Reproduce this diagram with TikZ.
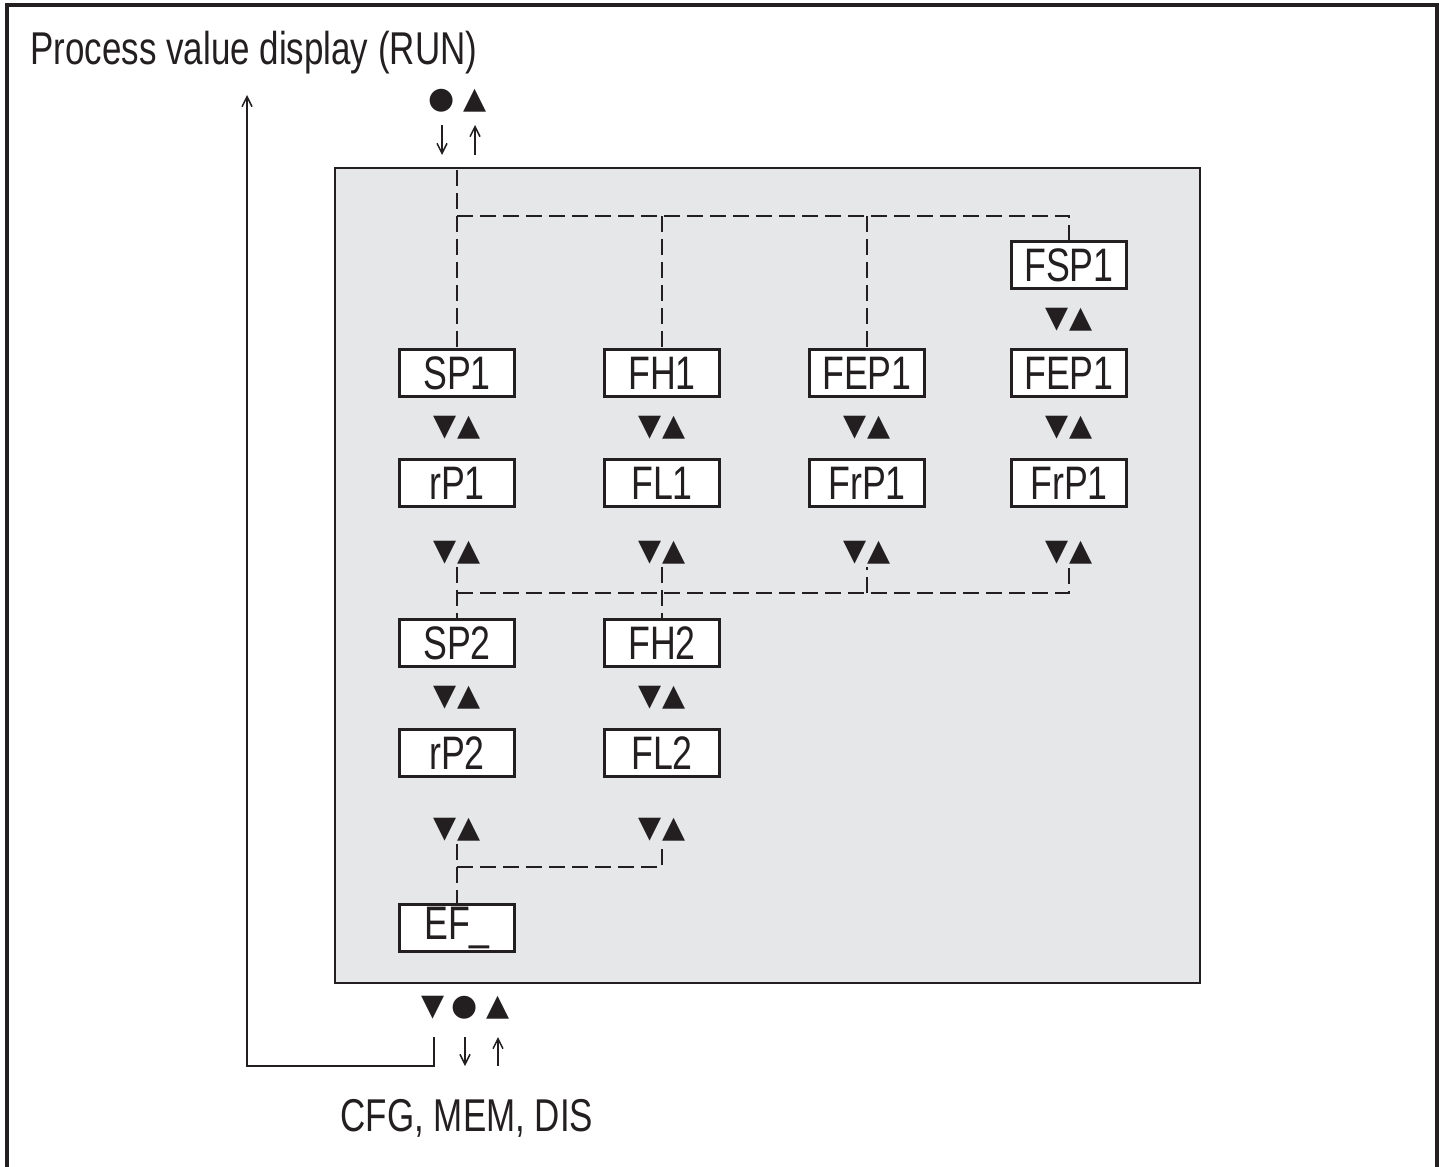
\documentclass[tikz,border=0pt]{standalone}
\usepackage{fontspec}
\setmainfont{Liberation Sans}[FakeStretch=0.76]
\newfontfamily\symfont{DejaVu Sans}
\usetikzlibrary{arrows.meta, positioning}
\definecolor{panelgray}{HTML}{E6E7E8}
\definecolor{ink}{HTML}{231F20}

\begin{document}
\begin{tikzpicture}[x=0.5pt, y=-0.5pt,
  every node/.style={text=ink},
  menubox/.style={rectangle, draw=ink, line width=1.5pt, fill=white, minimum width=57.5pt, minimum height=23.5pt, inner sep=0pt, font=\fontsize{23.5}{26}\selectfont},
  keys/.style={inner sep=1pt, font=\symfont\fontsize{15}{15}\selectfont},
  dot/.style={inner sep=1pt, font=\symfont\fontsize{15}{15}\selectfont},
  link/.style={draw=ink, line width=1pt, dash pattern=on 8pt off 3.5pt},
  ptr/.style={draw=ink, line width=0.75pt, -{Straight Barb[length=5pt, width=5pt]}},
]
  \useasboundingbox (0,0) rectangle (1448,1167);
  \draw[ink, line width=2pt] (7,1167) -- (7,5) -- (1437,5) -- (1437,1167);
  \node[anchor=base west, inner sep=0pt, font=\fontsize{23}{28}\selectfont] (title) at (30,64) {Process value display (RUN)};

  \draw[ink, line width=0.75pt, fill=panelgray] (335,168) rectangle (1200,983);

  \node[menubox] (fsp1) at (1069,265) {FSP1};
  \node[menubox] (sp1) at (457,373) {SP1};
  \node[menubox] (fh1) at (662,373) {FH1};
  \node[menubox] (fep1a) at (867,373) {FEP1};
  \node[menubox] (fep1b) at (1069,373) {FEP1};
  \node[menubox] (rp1) at (457,483) {rP1};
  \node[menubox] (fl1) at (662,483) {FL1};
  \node[menubox] (frp1a) at (867,483) {FrP1};
  \node[menubox] (frp1b) at (1069,483) {FrP1};
  \node[menubox] (sp2) at (457,643) {SP2};
  \node[menubox] (fh2) at (662,643) {FH2};
  \node[menubox] (rp2) at (457,753) {rP2};
  \node[menubox] (fl2) at (662,753) {FL2};
  \node[menubox] (ef) at (457,928) {EF\_};

  \node[keys] (k40) at (1069,320) {▼\kern0.5pt▲};
  \node[keys] (k11) at (457,428) {▼\kern0.5pt▲};
  \node[keys] (k21) at (662,428) {▼\kern0.5pt▲};
  \node[keys] (k31) at (867,428) {▼\kern0.5pt▲};
  \node[keys] (k41) at (1069,428) {▼\kern0.5pt▲};
  \node[keys] (k12) at (457,553) {▼\kern0.5pt▲};
  \node[keys] (k22) at (662,553) {▼\kern0.5pt▲};
  \node[keys] (k32) at (867,553) {▼\kern0.5pt▲};
  \node[keys] (k42) at (1069,553) {▼\kern0.5pt▲};
  \node[keys] (k13) at (457,698) {▼\kern0.5pt▲};
  \node[keys] (k23) at (662,698) {▼\kern0.5pt▲};
  \node[keys] (k14) at (457,830) {▼\kern0.5pt▲};
  \node[keys] (k24) at (662,830) {▼\kern0.5pt▲};

  \coordinate (tin) at (457,170);
  \coordinate (tj) at (457,216);
  \draw[link] (tin) -- (sp1.north);
  \draw[link] (tj) -| (fsp1.north);
  \draw[link] (tj -| fh1) -- (fh1.north);
  \draw[link] (tj -| fep1a) -- (fep1a.north);

  \coordinate (mj) at (457,593);
  \draw[link] (k12.south) -- (sp2.north);
  \draw[link] (k22.south) -- (fh2.north);
  \draw[link] (mj) -| (k42.south);
  \draw[link] (mj -| k32) -- (k32.south);

  \coordinate (bj) at (457,867);
  \draw[link] (k14.south) -- (ef.north);
  \draw[link] (bj) -| (k24.south);

  \node[dot] (setin) at (442,101) {●};
  \node[keys] (upin) at (475,101) {▲};
  \coordinate (a1) at (442,125);
  \coordinate (a2) at (442,155);
  \coordinate (a3) at (475,155);
  \coordinate (a4) at (475,125);
  \draw[ptr] (a1) -- (a2);
  \draw[ptr] (a3) -- (a4);

  \node[keys] (downout) at (433,1008) {▼};
  \node[dot] (setout) at (465,1008) {●};
  \node[keys] (upout) at (498,1008) {▲};
  \coordinate (b1) at (465,1037);
  \coordinate (b2) at (465,1066);
  \coordinate (b3) at (498,1066);
  \coordinate (b4) at (498,1037);
  \draw[ptr] (b1) -- (b2);
  \draw[ptr] (b3) -- (b4);

  \coordinate (ret) at (434,1037);
  \coordinate (retc) at (247,1066);
  \coordinate (runin) at (247,95);
  \draw[ptr] (ret) |- (retc) -- (runin);

  \node[anchor=base, inner sep=0pt, font=\fontsize{23}{28}\selectfont] (menus) at (467,1131) {CFG, MEM, DIS};
\end{tikzpicture}
\end{document}
